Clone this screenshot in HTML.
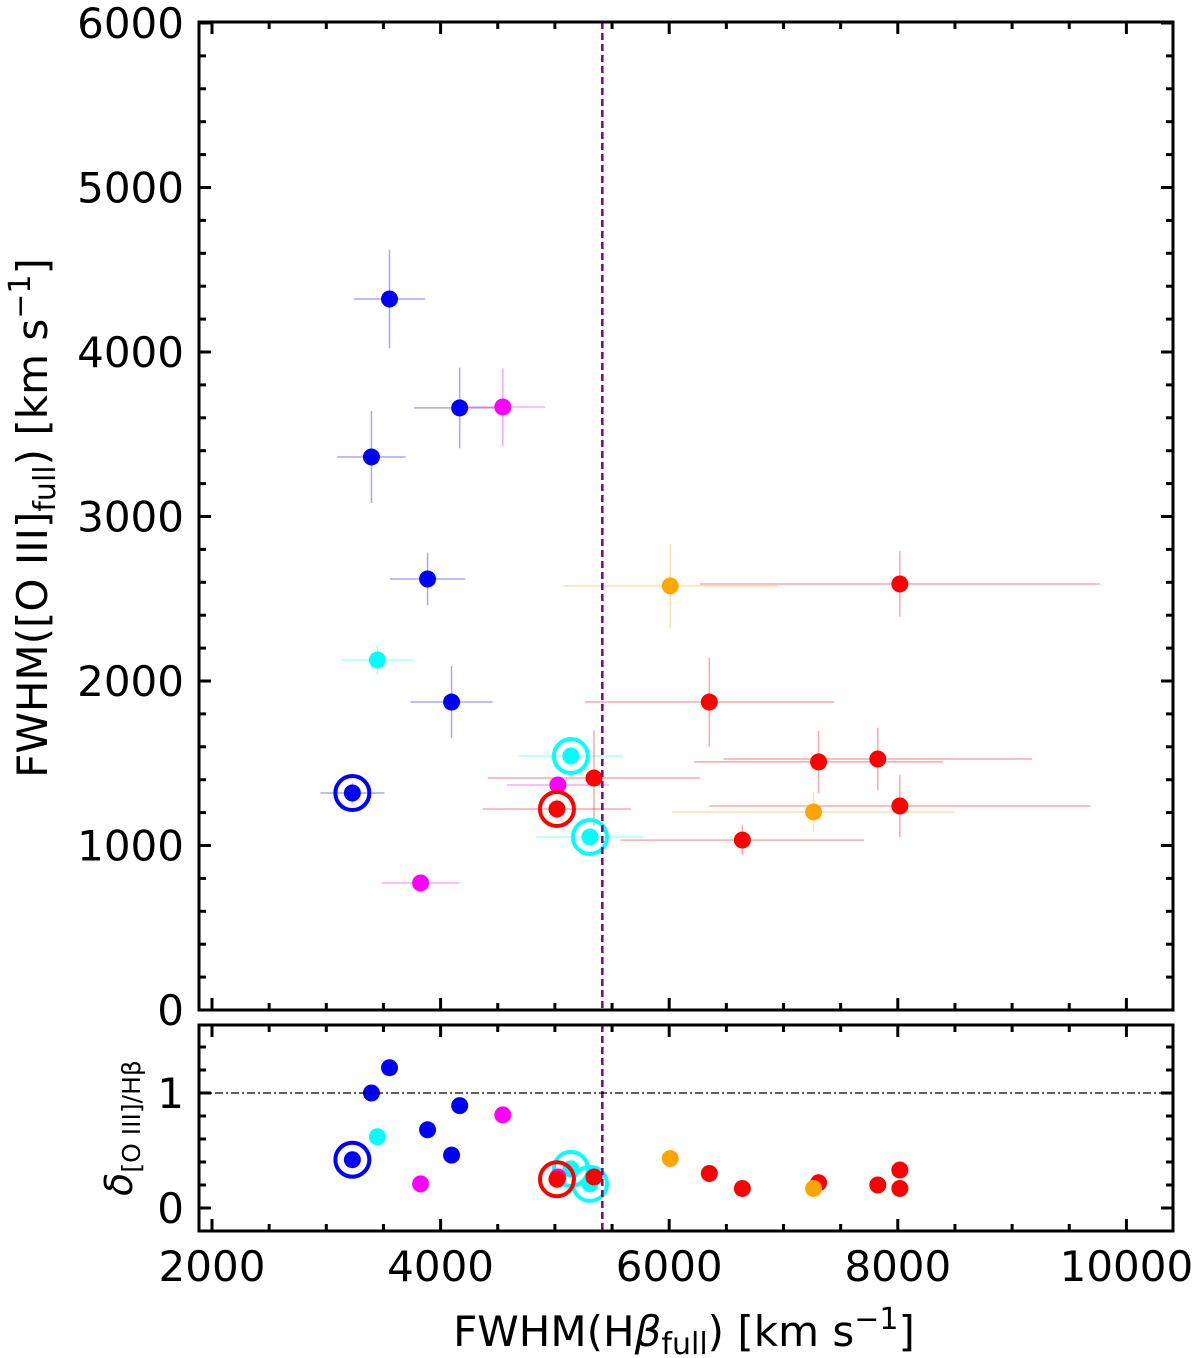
<!DOCTYPE html>
<html><head><meta charset="utf-8"><style>
body{margin:0;background:#fff}
svg{display:block;font-family:"DejaVu Sans","Liberation Sans",sans-serif}
</style></head><body>
<svg id="c" width="1200" height="1358" viewBox="0 0 1200 1358"></svg>
<script>
const xs=[3553,4167,3395,3886,4096,3228,3447,5140,5307,4544,5026,3825,5018,5342,6351,8018,7307,7825,8018,6640,6009,7263];
const ys=[4322,3660,3362,2620,1872,1319,2128,1544,1052,3666,1368,772,1222,1410,1872,2590,1508,1526,1240,1033,2578,1204];
const xerr=[310,400,300,330,360,280,315,455,470,370,445,340,650,930,1090,1750,1090,1350,1670,1065,940,1240];
const yerr=[300,245,280,160,220,60,90,30,30,235,30,30,60,290,270,200,190,190,190,90,255,120];
const delta=[1.22,0.89,1.0,0.68,0.46,0.42,0.62,0.34,0.21,0.81,0.27,0.21,0.25,0.27,0.30,0.33,0.22,0.20,0.17,0.17,0.43,0.17];
const colors=["#0000ff","#0000ff","#0000ff","#0000ff","#0000ff","#0000ff","#00ffff","#00ffff","#00ffff","#ff00ff","#ff00ff","#ff00ff","#ff0000","#ff0000","#ff0000","#ff0000","#ff0000","#ff0000","#ff0000","#ff0000","#ffa500","#ffa500"];
const circled=[0,0,0,0,0,1,0,1,1,0,0,0,1,0,0,0,0,0,0,0,0,0];
const vline=5415;
const xTicks=[2000,4000,6000,8000,10000];
const yTicks=[0,1000,2000,3000,4000,5000,6000];
const dTicks=[0,1];

const NS="http://www.w3.org/2000/svg";
const svg=document.getElementById('c');
const L=199,R=1173,T1=22,B1=1010,T2=1025,B2=1231;
const X=v=>212+(v-2000)*0.1143;
const Y=v=>1010-v*0.1645;
const D=v=>1208-v*115;
function mk(tag,a,parent){const e=document.createElementNS(NS,tag);for(const k in a)e.setAttribute(k,a[k]);(parent||svg).appendChild(e);return e;}

function panel(name){
  const g=mk('g',{});
  
  
  return g;
}
const gTop=panel('main-panel');
const gBot=panel('delta-panel');

function xTickMarks(g,top,bot){
  for(let v=2000;v<=10400;v+=500){
    const px=X(v);const major=v%2000===0;const len=major?12:7;
    mk('line',{x1:px,x2:px,y1:bot,y2:bot-len,stroke:'#000','stroke-width':3},g);
    mk('line',{x1:px,x2:px,y1:top,y2:top+len,stroke:'#000','stroke-width':3},g);
  }
}
xTickMarks(gTop,T1,B1);xTickMarks(gBot,T2,B2);
for(let v=0;v<=6000;v+=200){const py=Y(v);const len=v%1000===0?12:7;
  mk('line',{x1:L,x2:L+len,y1:py,y2:py,stroke:'#000','stroke-width':3},gTop);
  mk('line',{x1:R,x2:R-len,y1:py,y2:py,stroke:'#000','stroke-width':3},gTop);}
for(let i=0;i<=7;i++){const v=i*0.2;const py=D(v);const len=(i%5===0)?12:7;
  mk('line',{x1:L,x2:L+len,y1:py,y2:py,stroke:'#000','stroke-width':3},gBot);
  mk('line',{x1:R,x2:R-len,y1:py,y2:py,stroke:'#000','stroke-width':3},gBot);}

xTicks.forEach(v=>{const t=mk('text',{x:X(v),y:1281,'font-size':42,'text-anchor':'middle'});t.textContent=v;
});
yTicks.forEach(v=>{const t=mk('text',{x:184,y:Y(v)+15,'font-size':42,'text-anchor':'end'});t.textContent=v;
});
dTicks.forEach(v=>{const t=mk('text',{x:184,y:D(v)+15,'font-size':42,'text-anchor':'end'});t.textContent=v;
});

const vl1=mk('line',{x1:X(vline),x2:X(vline),y1:T1,y2:B1,stroke:'#800080','stroke-width':2.5,'stroke-dasharray':'7,4'});

const vl2=mk('line',{x1:X(vline),x2:X(vline),y1:T2,y2:B2,stroke:'#800080','stroke-width':2.5,'stroke-dasharray':'7,4'});

const hl=mk('line',{x1:L,x2:R,y1:D(1),y2:D(1),stroke:'#000','stroke-width':1.3,'stroke-dasharray':'8,3,2,3'});


xs.forEach((x,i)=>{
  const c=colors[i];
  mk('line',{x1:X(x-xerr[i]),x2:X(x+xerr[i]),y1:Y(ys[i]),y2:Y(ys[i]),stroke:c,'stroke-opacity':0.35,'stroke-width':1.5},gTop);
  mk('line',{x1:X(x),x2:X(x),y1:Y(ys[i]-yerr[i]),y2:Y(ys[i]+yerr[i]),stroke:c,'stroke-opacity':0.35,'stroke-width':1.5},gTop);
});
xs.forEach((x,i)=>{
  const c=colors[i];
  const p=mk('circle',{cx:X(x),cy:Y(ys[i]),r:8.5,fill:c},gTop);
  
  const q=mk('circle',{cx:X(x),cy:D(delta[i]),r:8.5,fill:c},gBot);
  
  if(circled[i]){
    mk('circle',{cx:X(x),cy:Y(ys[i]),r:17,fill:'none',stroke:c,'stroke-width':4},gTop);
    mk('circle',{cx:X(x),cy:D(delta[i]),r:17,fill:'none',stroke:c,'stroke-width':4},gBot);
  }
});

mk('rect',{x:L,y:T1,width:R-L,height:B1-T1,fill:'none',stroke:'#000','stroke-width':3});
mk('rect',{x:L,y:T2,width:R-L,height:B2-T2,fill:'none',stroke:'#000','stroke-width':3});
</script>
<div style="position:absolute;left:0;top:0;width:1200px;height:1358px;pointer-events:none">
<svg width="1200" height="1358" style="position:absolute;left:0;top:0;font-family:'DejaVu Sans','Liberation Sans',sans-serif">
<text x="684" y="1346" font-size="42" text-anchor="middle">FWHM(H<tspan font-style="italic">β</tspan><tspan font-size="30" dy="8">full</tspan><tspan dy="-8">) [km s</tspan><tspan font-size="30" dy="-17">−1</tspan><tspan dy="17">]</tspan></text>
<text transform="translate(47,518) rotate(-90)" font-size="42" text-anchor="middle">FWHM([O III]<tspan font-size="30" dy="8">full</tspan><tspan dy="-8">) [km s</tspan><tspan font-size="30" dy="-17">−1</tspan><tspan dy="17">]</tspan></text>
<text transform="translate(132,1128) rotate(-90)" font-size="38" text-anchor="middle"><tspan font-style="italic">δ</tspan><tspan font-size="25" dy="8">[O III]/Hβ</tspan></text>
</svg></div>
</body></html>
